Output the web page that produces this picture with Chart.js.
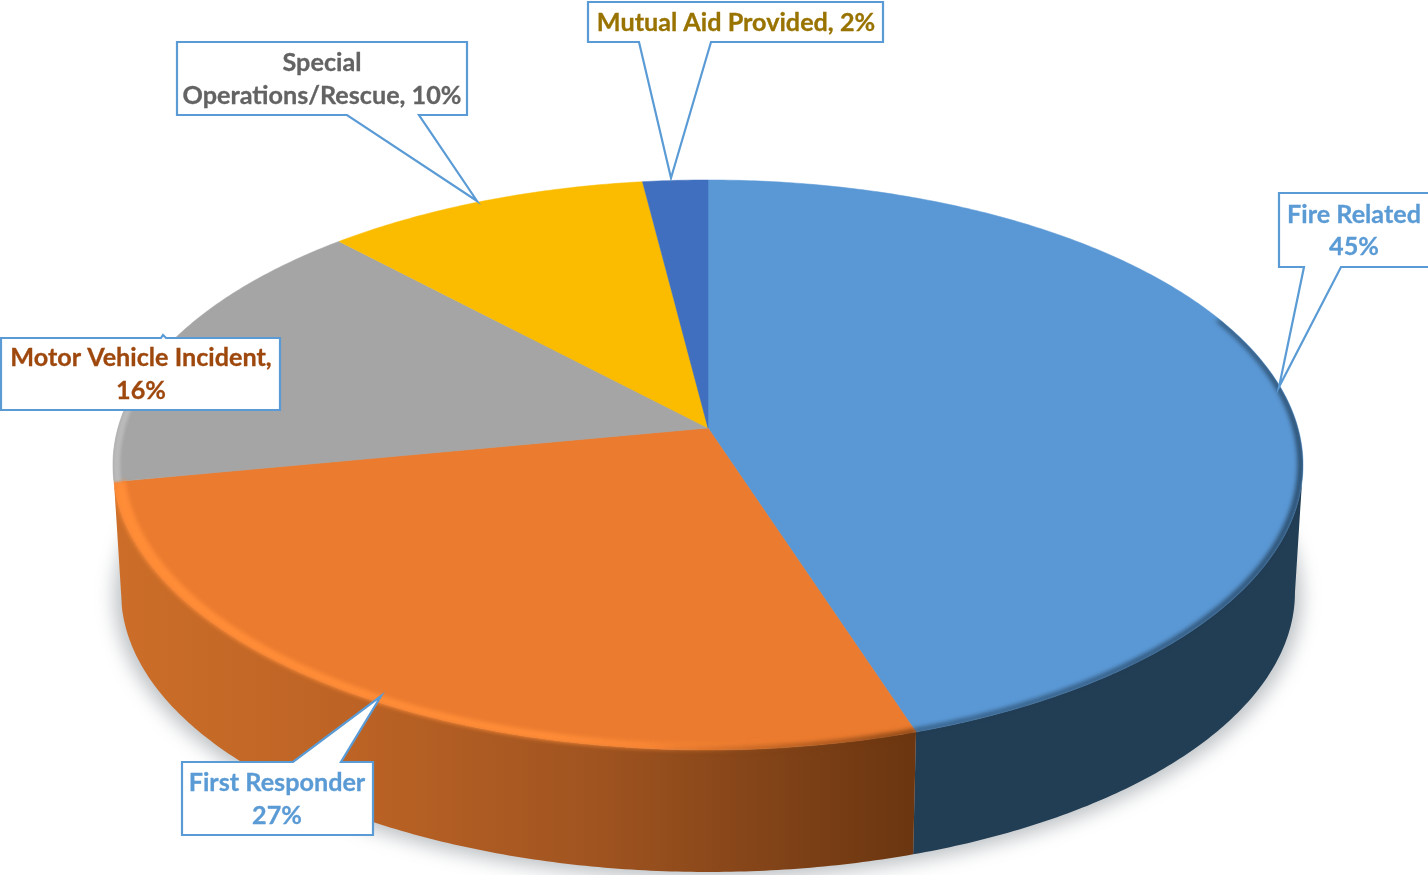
<!DOCTYPE html>
<html>
<head>
<meta charset="utf-8">
<title>Incident types</title>
<script src="https://cdn.jsdelivr.net/npm/chart.js@4/dist/chart.umd.js"></script>
<style>
    html, body { margin: 0; padding: 0; background: #fff; overflow: hidden; }
    canvas { display: block; }
</style>
</head>
<body>
<canvas id="myChart" width="1428" height="875"></canvas>
<script>
const categories = ["Fire Related", "First Responder", "Motor Vehicle Incident", "Special Operations/Rescue", "Mutual Aid Provided"];
const values = [45, 27, 16, 10, 2];
const faceColors = ["#5A98D5", "#EB7B2F", "#A5A5A5", "#FBBC00", "#3F6FBE"];
const labelColors = ["#5B9BD5", "#5B9BD5", "#9E480E", "#636363", "#997300"];
const labelLines = [
    [categories[0], values[0] + "%"],
    [categories[1], values[1] + "%"],
    [categories[2] + ",", values[2] + "%"],
    ["Special", "Operations/Rescue, " + values[3] + "%"],
    [categories[4] + ", " + values[4] + "%"]
];

// perspective of the disc: the near edge is bigger than the far edge
const CX = 708, K = 0.1297;
const TOP_FACE = { a: 590, b: 280.2, cy: 428 };
const BOTTOM_FACE = { a: 582, b: 275, cy: 556 };
const WALL_START = 7.5 * Math.PI / 180, WALL_END = 172.5 * Math.PI / 180;

// box and pointer of each callout
const callouts = [
    { box: [1279, 193, 1431, 267], base: [1304, 1341], tip: [1279, 387], textX: 1354, lineY: [215, 247] },
    { box: [182, 762, 373, 835], base: [293, 341], tip: [381, 696], textX: 277, lineY: [783, 816] },
    { box: [1, 338, 280, 410], base: [161, 166], tip: [163, 335], textX: 141, lineY: [358, 391] },
    { box: [177, 42, 467, 115], base: [347, 419], tip: [477, 201], textX: 322, lineY: [63, 96] },
    { box: [588, 2, 883, 42], base: [639, 711], tip: [671, 178], textX: 736, lineY: [23] }
];

function project(angle, face, radius = 1) {
    let u = Math.cos(angle) * radius;
    let v = Math.sin(angle) * radius;
    let w = 1 - K * v;
    return [CX + face.a * u / w, face.cy + face.b * v / w];
}

function traceRim(ctx, start, end, face, radius = 1, moveFirst = true) {
    let steps = Math.max(2, Math.ceil(Math.abs(end - start) / 0.01));
    for (let i = 0; i <= steps; i++) {
        let p = project(start + (end - start) * i / steps, face, radius);
        if (i == 0 && moveFirst) {
            ctx.moveTo(p[0], p[1]);
        } else {
            ctx.lineTo(p[0], p[1]);
        }
    }
}

function traceSlice(ctx, arc) {
    ctx.beginPath();
    ctx.moveTo(CX, TOP_FACE.cy);
    traceRim(ctx, arc.startAngle, arc.endAngle, TOP_FACE, 1, false);
    ctx.closePath();
}

function traceBand(ctx, start, end, inner, outer = 1) {
    ctx.beginPath();
    traceRim(ctx, start, end, TOP_FACE, outer);
    traceRim(ctx, end, start, TOP_FACE, inner, false);
    ctx.closePath();
}

function wallFill(ctx, index) {
    if (index == 0) return "#223E55";
    if (index == 2) return "#9C9C9C";
    let g = ctx.createLinearGradient(115, 0, 913, 0);
    g.addColorStop(0, "#CC6E29");
    g.addColorStop(0.3, "#BC6325");
    g.addColorStop(0.6, "#A05420");
    g.addColorStop(0.85, "#7E4117");
    g.addColorStop(1, "#6B3610");
    return g;
}

function drawShadow(ctx) {
    ctx.save();
    ctx.filter = "blur(9px)";
    ctx.fillStyle = "rgba(60,70,80,0.32)";
    ctx.beginPath();
    let steps = 200;
    for (let i = 0; i <= steps; i++) {
        let p = project(i / steps * Math.PI * 2, BOTTOM_FACE, 1.012);
        ctx.lineTo(p[0], p[1] + 3);
    }
    ctx.closePath();
    ctx.fill();
    ctx.restore();
}

function drawWalls(ctx, arcs) {
    arcs.forEach((arc, i) => {
        let start = Math.max(arc.startAngle, WALL_START);
        let end = Math.min(arc.endAngle, WALL_END);
        if (end <= start) return;
        ctx.beginPath();
        traceRim(ctx, start, end, TOP_FACE);
        traceRim(ctx, end, start, BOTTOM_FACE, 1, false);
        ctx.closePath();
        ctx.fillStyle = wallFill(ctx, i);
        ctx.fill();
    });
}

function drawBevels(ctx, arcs) {
    // the soft edges may spill onto the wall but never onto the white page
    ctx.save();
    ctx.beginPath();
    traceRim(ctx, -Math.PI, Math.PI, TOP_FACE);
    ctx.closePath();
    traceRim(ctx, WALL_START, WALL_END, TOP_FACE);
    traceRim(ctx, WALL_END, WALL_START, BOTTOM_FACE, 1, false);
    ctx.closePath();
    ctx.clip();

    // dark soft edge on the blue slice
    ctx.filter = "blur(2.5px)";
    traceBand(ctx, -0.42, arcs[0].endAngle, 0.992);
    ctx.fillStyle = "#1F3A52";
    ctx.fill();

    // orange slice: bright lip, fading out toward the blue slice
    let g = ctx.createLinearGradient(115, 0, 913, 0);
    g.addColorStop(0, "rgba(255,140,55,1)");
    g.addColorStop(0.55, "rgba(255,140,55,1)");
    g.addColorStop(0.8, "rgba(255,140,55,0.25)");
    g.addColorStop(1, "rgba(255,140,55,0)");
    ctx.filter = "blur(2px)";
    traceBand(ctx, arcs[1].startAngle, arcs[1].endAngle, 0.981, 1.002);
    ctx.fillStyle = g;
    ctx.fill();

    // darker seam where the lip meets the wall near the blue slice
    ctx.filter = "blur(2.5px)";
    traceBand(ctx, arcs[1].startAngle, arcs[1].startAngle + 0.5, 0.992, 1.004);
    let d = ctx.createLinearGradient(650, 0, 913, 0);
    d.addColorStop(0, "rgba(107,54,16,0)");
    d.addColorStop(1, "rgba(107,54,16,1)");
    ctx.fillStyle = d;
    ctx.fill();

    // silver edge on the grey slice
    ctx.filter = "blur(1.5px)";
    traceBand(ctx, arcs[2].startAngle, arcs[2].startAngle + 0.35, 0.988);
    ctx.fillStyle = "#BABABA";
    ctx.fill();
    ctx.restore();
}

function drawCallout(ctx, c, i) {
    let [x0, y0, x1, y1] = c.box;
    ctx.beginPath();
    ctx.moveTo(x0, y0);
    if (c.tip && c.tip[1] < y0) {
        ctx.lineTo(c.base[0], y0);
        ctx.lineTo(c.tip[0], c.tip[1]);
        ctx.lineTo(c.base[1], y0);
    }
    ctx.lineTo(x1, y0);
    ctx.lineTo(x1, y1);
    // the pointer hangs from the bottom edge or rises from the top edge
    if (c.tip && c.tip[1] > y1) {
        ctx.lineTo(c.base[1], y1);
        ctx.lineTo(c.tip[0], c.tip[1]);
        ctx.lineTo(c.base[0], y1);
    }
    ctx.lineTo(x0, y1);
    ctx.closePath();
    ctx.fillStyle = "#fff";
    ctx.fill();
    ctx.strokeStyle = "#5B9BD5";
    ctx.lineWidth = 2.2;
    ctx.lineJoin = "miter";
    ctx.stroke();

    ctx.fillStyle = labelColors[i];
    ctx.strokeStyle = labelColors[i];
    ctx.lineWidth = 0.3;
    ctx.font = "bold 25.2px Lato";
    ctx.textAlign = "center";
    ctx.textBaseline = "middle";
    labelLines[i].forEach((line, n) => {
        ctx.fillText(line, c.textX, c.lineY[n]);
        ctx.strokeText(line, c.textX, c.lineY[n]);
    });
}

const pie3d = {
    id: "pie3d",
    beforeDatasetsDraw(chart) {
        const ctx = chart.ctx;
        const arcs = chart.getDatasetMeta(0).data;
        drawShadow(ctx);
        drawWalls(ctx, arcs);
        arcs.forEach((arc, i) => {
            traceSlice(ctx, arc);
            ctx.fillStyle = faceColors[i];
            ctx.fill();
            // hides the hairline between neighbouring slices
            ctx.strokeStyle = faceColors[i];
            ctx.lineWidth = 0.5;
            ctx.stroke();
        });
        drawBevels(ctx, arcs);
        return false;
    },
    afterDraw(chart) {
        const ctx = chart.ctx;
        ctx.save();
        callouts.forEach((c, i) => drawCallout(ctx, c, i));
        ctx.restore();
    }
};

const data = {
    labels: categories,
    datasets: [{ data: values, backgroundColor: faceColors, borderWidth: 0 }]
};

const config = {
    type: "pie",
    data,
    options: {
        responsive: false,
        animation: false,
        plugins: {
            legend: { display: false },
            tooltip: { enabled: false }
        }
    },
    plugins: [pie3d]
};

document.fonts.load("bold 25px Lato").finally(() => {
    new Chart(document.getElementById("myChart").getContext("2d"), config);
});
</script>
</body>
</html>
